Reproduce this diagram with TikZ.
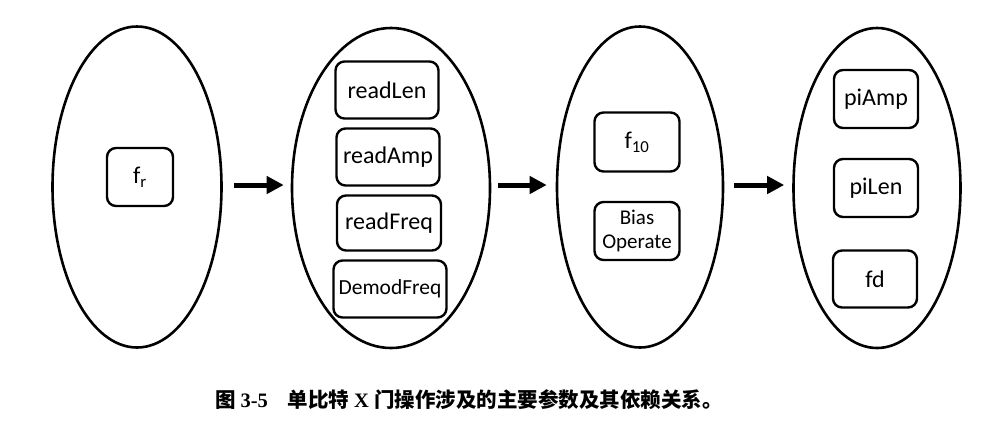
\documentclass[tikz,border=0pt]{standalone}
\usepackage{fontspec}
\setmainfont{Carlito}
\newfontfamily\cjk{Noto Sans CJK SC}
\newfontfamily\capserif{Liberation Serif}
\usetikzlibrary{shapes.geometric,arrows.meta,positioning}

\begin{document}
\begin{tikzpicture}[
    x=1pt, y=-1pt,
    stage/.style={ellipse, draw, line width=2.6pt, inner sep=0pt},
    param/.style={rectangle, draw, rounded corners=9pt, line width=2.4pt, inner sep=0pt, text centered, font=\fontsize{24}{26}\selectfont},
    arrow/.style={-{Triangle[length=17pt,width=17pt]}, line width=5pt}
]
\useasboundingbox (0,0) rectangle (982,440);

% Stages
\node[stage, minimum width=169pt, minimum height=321pt] (stage1) at (137,187) {};
\node[stage, minimum width=198pt, minimum height=320pt] (stage2) at (391,188) {};
\node[stage, minimum width=166pt, minimum height=321pt] (stage3) at (640,187) {};
\node[stage, minimum width=167pt, minimum height=320pt] (stage4) at (877,188) {};

% Stage 1
\node[param, minimum width=66pt, minimum height=58pt] (fr) at (140,177) {f\textsubscript{r}};

% Stage 2
\node[param, minimum width=103pt, minimum height=57pt] (readlen) at (387,90) {readLen};
\node[param, minimum width=103pt, minimum height=57pt] (readamp) at (388,157) {readAmp};
\node[param, minimum width=104pt, minimum height=55pt] (readfreq) at (389,223) {readFreq};
\node[param, minimum width=113pt, minimum height=57pt, font=\fontsize{21.5}{24}\selectfont] (demod) at (390,289) {DemodFreq};

% Stage 3
\node[param, minimum width=85pt, minimum height=59pt] (f10) at (637,142) {f\textsubscript{10}};
\node[param, minimum width=85pt, minimum height=58pt, align=center, font=\fontsize{21}{24}\selectfont] (bias) at (637,231) {Bias\\Operate};

% Stage 4
\node[param, minimum width=84pt, minimum height=58pt] (piamp) at (876,99) {piAmp};
\node[param, minimum width=84pt, minimum height=58pt] (pilen) at (876,188) {piLen};
\node[param, minimum width=84pt, minimum height=57pt] (fd) at (875,279) {fd};

% Arrows
\draw[arrow, shorten <=11pt, shorten >=7pt] (stage1.east |- 0,185) -- (stage2.west |- 0,185);
\draw[arrow, shorten <=7pt, shorten >=9pt] (stage2.east |- 0,185) -- (stage3.west |- 0,185);
\draw[arrow, shorten <=10pt, shorten >=8pt] (stage3.east |- 0,185) -- (stage4.west |- 0,185);

% Caption
\node[font=\fontsize{20.5}{24}\selectfont\bfseries] (caption) at (469,400)
    {\cjk 图 \capserif 3-5\hspace{20pt}\cjk 单比特 \capserif X \cjk 门操作涉及的主要参数及其依赖关系。};

\end{tikzpicture}
\end{document}
